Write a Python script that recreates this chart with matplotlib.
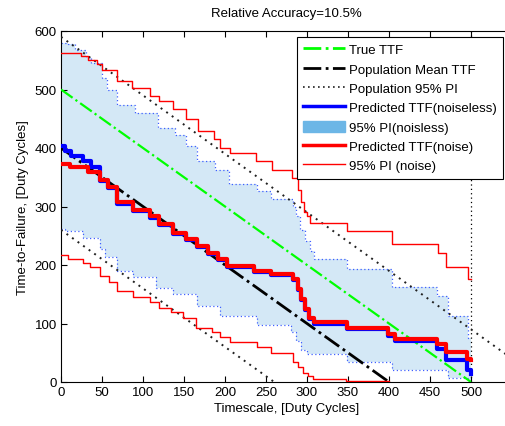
import numpy as np
import matplotlib
matplotlib.use("Agg")
import matplotlib.pyplot as plt
from matplotlib.lines import Line2D
from matplotlib.patches import Patch

plt.rcParams['font.family'] = ['Liberation Sans', 'DejaVu Sans']
plt.rcParams['font.size'] = 9.5

# Timescale / TTF reference lines
t_true = [0, 500]
ttf_true = [500, 0]
t_mean = [0, 400]
ttf_mean = [400, 0]
t_pop_hi = [0, 550]
ttf_pop_hi = [590, 40]
t_pop_lo = [0, 260]
ttf_pop_lo = [260, 0]

# Predicted TTF, noiseless (step values, held until next x)
blue_pred_x = [0, 5, 12, 27, 37, 47, 57, 68, 88, 108, 120, 136, 152, 166, 179, 191, 203, 235, 256, 283,
               289, 293, 297, 302, 308, 349, 399, 407, 458, 469, 495, 500]
blue_pred_y = [403, 395, 387, 378, 367, 343, 332, 305, 292, 281, 268, 253, 242, 231, 219, 208, 197, 188, 183, 174,
               157, 140, 123, 108, 100, 90, 79, 70, 56, 38, 20, 14]

# 95% PI, noiseless
blue_hi_x = [0, 9, 17, 30, 37, 50, 56, 68, 90, 118, 139, 152, 166, 188, 205, 239, 256, 283, 287, 292,
             298, 304, 309, 349, 404, 459, 472, 496, 500]
blue_hi_y = [580, 577, 567, 556, 545, 520, 500, 474, 460, 435, 423, 403, 378, 363, 339, 326, 312, 300, 284, 260,
             241, 224, 210, 193, 163, 147, 113, 75, 75]
blue_lo_x = [0, 5, 27, 47, 54, 68, 88, 116, 136, 166, 194, 239, 280, 287, 293, 300, 349, 404, 472, 497, 500]
blue_lo_y = [261, 258, 247, 227, 213, 189, 179, 161, 150, 130, 113, 97, 85, 70, 55, 48, 35, 20, 6, 2, 2]

# Predicted TTF, with noise
red_pred_x = [0, 11, 33, 47, 57, 68, 88, 108, 120, 136, 152, 166, 179, 191, 203, 235, 256, 283, 289, 293,
              297, 302, 308, 349, 399, 407, 458, 469, 495, 500]
red_pred_y = [372, 367, 359, 345, 334, 307, 294, 283, 270, 255, 244, 233, 221, 210, 199, 190, 185, 176, 159, 142,
              125, 110, 103, 93, 82, 73, 65, 51, 39, 37]

# 95% PI, with noise
red_hi_x = [0, 25, 33, 44, 50, 68, 86, 108, 119, 137, 153, 167, 186, 194, 206, 238, 257, 282, 289, 293,
            296, 300, 304, 349, 404, 460, 470, 496, 500]
red_hi_y = [563, 557, 551, 543, 534, 514, 503, 489, 480, 467, 449, 429, 415, 400, 392, 378, 363, 349, 329, 307,
            290, 284, 272, 258, 236, 221, 197, 176, 176]
red_lo_x = [0, 9, 27, 35, 48, 58, 68, 88, 108, 119, 134, 149, 165, 184, 194, 206, 239, 256, 283, 289,
            295, 301, 307, 348, 400]
red_lo_y = [217, 211, 204, 196, 181, 171, 156, 146, 136, 127, 119, 110, 93, 86, 77, 68, 59, 50, 35, 25,
            16, 10, 5, 2, 0]

x_ticks = np.arange(0, 501, 50)
y_ticks = np.arange(0, 601, 100)


def step_xy(x, y):
    # vertices of a steps-post line
    xs = np.repeat(np.asarray(x, float), 2)[1:]
    ys = np.repeat(np.asarray(y, float), 2)[:-1]
    return xs, ys


fig = plt.figure(figsize=(5.06, 4.27), dpi=100)
ax = fig.add_axes([61 / 506, 44 / 427, 451 / 506, 351 / 427])

# shaded noiseless PI band
ux, uy = step_xy(blue_hi_x, blue_hi_y)
lx, ly = step_xy(blue_lo_x, blue_lo_y)
ax.fill(np.concatenate([ux, lx[::-1]]), np.concatenate([uy, ly[::-1]]),
        color='#d4e8f6', lw=0, zorder=1)
ax.plot(ux, uy, color='#4060ff', ls=(0, (1, 2)), lw=0.9, zorder=2)
ax.plot(lx, ly, color='#4060ff', ls=(0, (1, 2)), lw=0.9, zorder=2)

ax.axvline(500, color='k', ls=(0, (1, 2.5)), lw=0.9, zorder=2)

ax.plot(t_true, ttf_true, color='#00ff00', ls='-.', lw=1.6, zorder=3)
ax.plot(t_mean, ttf_mean, color='k', ls='-.', lw=2.0, zorder=3)
ax.plot(t_pop_hi, ttf_pop_hi, color='#202020', ls=(0, (1, 2.5)), lw=1.4, zorder=3)
ax.plot(t_pop_lo, ttf_pop_lo, color='#202020', ls=(0, (1, 2.5)), lw=1.4, zorder=3)

ax.plot(*step_xy(blue_pred_x, blue_pred_y), color='#0000ff', lw=3, zorder=4)
ax.plot(*step_xy(red_pred_x, red_pred_y), color='#ff0000', lw=3, zorder=5)
ax.plot(*step_xy(red_hi_x, red_hi_y), color='#ff0000', lw=1, zorder=6)
ax.plot(*step_xy(red_lo_x, red_lo_y), color='#ff0000', lw=1, zorder=6)

ax.set_xlim(0, 550)
ax.set_ylim(0, 600)
ax.set_xticks(x_ticks)
ax.set_yticks(y_ticks)
ax.tick_params(direction='in', top=True, right=True, length=4, width=0.8, pad=3)
ax.set_xlabel('Timescale, [Duty Cycles]', labelpad=3)
ax.set_ylabel('Time-to-Failure, [Duty Cycles]', labelpad=4)
ax.set_title('Relative Accuracy=10.5%', fontsize=9.5, pad=11)

handles = [
    Line2D([], [], color='#00ff00', ls='-.', lw=2),
    Line2D([], [], color='k', ls='-.', lw=2),
    Line2D([], [], color='#202020', ls=(0, (1, 2)), lw=1.2),
    Line2D([], [], color='#0000ff', lw=2.5),
    Patch(facecolor='#6cb6e6', edgecolor='#6cb6e6'),
    Line2D([], [], color='#ff0000', lw=2.5),
    Line2D([], [], color='#ff0000', lw=1),
]
labels = ['True TTF', 'Population Mean TTF', 'Population 95% PI', 'Predicted TTF(noiseless)',
          '95% PI(noisless)', 'Predicted TTF(noise)', '95% PI (noise)']
leg = ax.legend(handles, labels, loc='upper left', bbox_to_anchor=(0.523, 0.984),
                borderaxespad=0, fancybox=False, framealpha=1, edgecolor='k',
                handlelength=3.15, handletextpad=0.3, labelspacing=0.48, borderpad=0.5,
                handleheight=0.9)
leg.get_frame().set_linewidth(0.8)
leg.set_zorder(10)

fig.savefig('out.png', dpi=100)
